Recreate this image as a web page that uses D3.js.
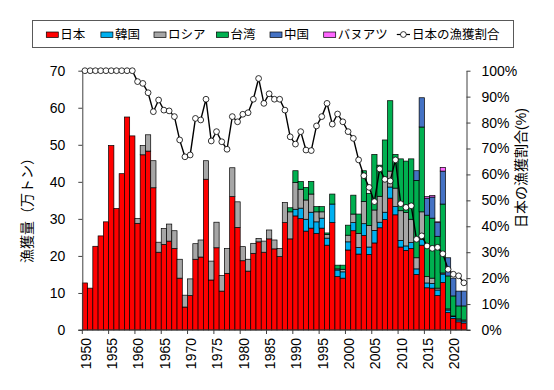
<!DOCTYPE html>
<html><head><meta charset="utf-8">
<script src="https://cdn.jsdelivr.net/npm/d3@7/dist/d3.min.js"></script>
<style>
body{margin:0;background:#fff}
text{font-family:"Liberation Sans",Arial,"Noto Sans CJK JP",sans-serif;fill:#000}
</style>
</head><body>
<svg id="c" width="554" height="390"></svg>
<script>
const years = [1950,1951,1952,1953,1954,1955,1956,1957,1958,1959,
1960,1961,1962,1963,1964,1965,1966,1967,1968,1969,
1970,1971,1972,1973,1974,1975,1976,1977,1978,1979,
1980,1981,1982,1983,1984,1985,1986,1987,1988,1989,
1990,1991,1992,1993,1994,1995,1996,1997,1998,1999,
2000,2001,2002,2003,2004,2005,2006,2007,2008,2009,
2010,2011,2012,2013,2014,2015,2016,2017,2018,2019,
2020,2021,2022];
const japan = [12.7,11.3,22.6,25.4,29.2,49.8,32.8,42.2,57.5,52.4,
28.8,47.3,48.3,38.4,21.0,23.1,24.0,22.0,14.0,6.2,
9.3,19.1,19.7,40.7,13.5,22.2,10.5,15.3,36.0,27.7,
18.7,15.9,20.7,23.8,21.0,24.6,21.9,19.8,29.0,24.6,
30.8,30.1,26.7,27.5,26.1,27.5,22.9,29.0,14.4,14.0,
21.6,26.8,20.5,25.5,20.4,23.5,27.6,29.8,35.6,31.1,
22.4,21.5,22.0,15.0,22.9,11.4,11.3,9.3,12.8,4.7,
3.1,2.2,1.9];
const korea = [0,0,0,0,0,0,0,0,0,0,
0,0,0,0,0,0,0,0,0,0,
0,0,0,0,0,0,0,0,0,0,
0,0,0,0,0,0,0,0,0,0,
1.8,2.8,3.2,4.3,3.1,2.7,1.9,5.0,1.8,1.7,
2.2,2.2,1.8,3.2,2.0,3.4,1.5,2.0,3.0,2.2,
1.8,1.2,1.6,1.5,1.5,1.3,1.3,1.5,2.3,0.7,
0.5,0.5,0.5];
const russia = [0,0,0,0,0,0,0,0,0,0,
1.3,2.5,4.4,7.3,2.7,4.3,4.6,4.8,5.1,3.2,
4.5,4.2,4.6,5.0,5.1,6.9,4.2,6.7,7.8,6.9,
3.8,3.2,2.7,0.9,3.0,2.4,2.4,2.2,5.4,7.3,
7.2,5.1,5.2,4.9,2.7,1.7,1.0,0,0.3,0.7,
1.8,2.3,3.8,6.0,5.8,5.5,7.0,8.5,4.3,5.0,
8.0,9.0,6.3,3.0,7.5,1.7,1.4,0.5,0.3,0.3,
0.2,0.3,0.3];
const taiwan = [0,0,0,0,0,0,0,0,0,0,
0,0,0,0,0,0,0,0,0,0,
0,0,0,0,0,0,0,0,0,0,
0,0,0,0,0,0,0,0,0,1.1,
3.2,2.1,3.4,3.4,1.4,1.4,0.4,2.7,1.0,1.1,
2.7,5.1,5.2,8.3,8.7,15.0,8.4,11.0,19.0,9.1,
14.0,13.9,16.3,20.9,22.9,16.6,16.2,14.0,18.6,8.9,
5.4,3.5,3.8];
const china = [0,0,0,0,0,0,0,0,0,0,
0,0,0,0,0,0,0,0,0,0,
0,0,0,0,0,0,0,0,0,0,
0,0,0,0,0,0,0,0,0,0,
0,0,0,0,0,0,0,0,0,0,
0,0,0,0,0,0,0,0,0,0,
0,0,0,2.6,7.9,4.6,5.7,3.7,8.9,4.9,
4.8,4.0,4.0];
const vanuatu = [0,0,0,0,0,0,0,0,0,0,
0,0,0,0,0,0,0,0,0,0,
0,0,0,0,0,0,0,0,0,0,
0,0,0,0,0,0,0,0,0,0,
0,0,0,0,0,0,0,0,0,0,
0,0,0,0,0,0,0,0,0,0,
0,0,0,0,0,0.4,0.4,0.2,1.0,0,
0,0,0];
const share = [100,100,100,100,100,100,100,100,100,100,
95.8,95.1,91.5,84.2,88.7,84.8,84.5,82.3,73.3,66.8,
67.5,81.6,81.0,89.0,72.9,76.5,72.6,69.7,82.3,80.3,
83.2,83.8,89.0,97.0,87.4,91.1,89.0,89.0,84.8,74.5,
71.7,76.5,69.4,69.2,78.7,82.3,87.4,79.4,83.3,80.3,
76.5,73.9,65.6,59.5,55.0,49.5,62.1,58.1,57.5,65.6,
48.7,47.3,47.9,35.0,36.3,32.4,31.5,31.9,29.4,23.4,
21.5,20.9,18.2];
const seriesNames = ["日本","韓国","ロシア","台湾","中国","バヌアツ"];
const seriesColors = ["#FF0000","#00B0F0","#A6A6A6","#00B050","#4472C4","#FF66FF"];
const leftTicks = [0,10,20,30,40,50,60,70];
const rightTicks = [0,10,20,30,40,50,60,70,80,90,100];
const yearTicks = [1950,1955,1960,1965,1970,1975,1980,1985,1990,1995,2000,2005,2010,2015,2020];
const lineName = "日本の漁獲割合";
const leftTitle = "漁獲量（万トン）";
const rightTitle = "日本の漁獲割合(%)";

const svg = d3.select("#c");
const x0 = 82.3, x1 = 466.5, yB = 330, yT = 70.7;
const x = d3.scaleBand().domain(years).range([x0, x1]).padding(0);
const y = d3.scaleLinear().domain([0, 70]).range([yB, yT]);
const y2 = d3.scaleLinear().domain([0, 100]).range([yB, yT]);
const bw = x.bandwidth();

const table = years.map((yr, i) => ({year: yr, "日本": japan[i], "韓国": korea[i], "ロシア": russia[i], "台湾": taiwan[i], "中国": china[i], "バヌアツ": vanuatu[i]}));
const stack = d3.stack().keys(seriesNames)(table);

const gBars = svg.append("g");
stack.forEach((s, si) => {
  gBars.selectAll(null).data(s.filter(d => d[1] - d[0] > 0)).join("rect")
    .attr("x", d => x(d.data.year))
    .attr("width", bw)
    .attr("y", d => y(d[1]))
    .attr("height", d => y(d[0]) - y(d[1]))
    .attr("fill", seriesColors[si])
    .attr("stroke", "#000")
    .attr("stroke-width", 0.7);
});

// left axis
const axL = svg.append("g").attr("transform", `translate(${x0},0)`)
  .call(d3.axisLeft(y).tickValues(leftTicks).tickSize(4).tickSizeOuter(0).tickPadding(13).tickFormat(d3.format("d")));
axL.select(".domain").attr("stroke", "#404040");
axL.selectAll(".tick line").attr("stroke", "#404040");
axL.selectAll("text").attr("font-size", 14).attr("font-family", '"Liberation Sans",Arial,sans-serif');

// right axis
const axR = svg.append("g").attr("transform", `translate(${x1},0)`)
  .call(d3.axisRight(y2).tickValues(rightTicks).tickSize(4).tickSizeOuter(0).tickPadding(11).tickFormat(d => d + "%"));
axR.select(".domain").attr("stroke", "#404040");
axR.selectAll(".tick line").attr("stroke", "#404040");
axR.selectAll("text").attr("font-size", 14).attr("font-family", '"Liberation Sans",Arial,sans-serif');

// bottom axis
svg.append("line").attr("x1", x0 - 4).attr("x2", x1 + 4).attr("y1", yB).attr("y2", yB).attr("stroke", "#404040");
const axB = svg.append("g").attr("transform", `translate(0,${yB})`);
yearTicks.forEach(t => {
  axB.append("line").attr("x1", x(t)).attr("x2", x(t)).attr("y1", 0).attr("y2", 4).attr("stroke", "#404040");
  axB.append("text").attr("transform", `translate(${x(t) + bw / 2 + 1},8) rotate(-90)`)
    .attr("text-anchor", "end").attr("dy", "0.35em").attr("font-size", 14).text(t);
});

// line
const line = d3.line().x((d, i) => x(years[i]) + bw / 2).y(d => y2(d));
svg.append("path").datum(share).attr("d", line).attr("fill", "none").attr("stroke", "#000").attr("stroke-width", 1.4);
svg.selectAll(null).data(share).join("circle")
  .attr("cx", (d, i) => x(years[i]) + bw / 2).attr("cy", d => y2(d)).attr("r", 2.9)
  .attr("fill", "#fff").attr("stroke", "#000").attr("stroke-width", 0.8);

// titles
svg.append("text").attr("transform", "translate(27,207) rotate(-90)").attr("text-anchor", "middle")
  .attr("dy", "0.35em").attr("font-size", 14).attr("font-family", '"Noto Sans CJK JP",sans-serif').text(leftTitle);
svg.append("text").attr("transform", "translate(521,168) rotate(-90)").attr("text-anchor", "middle")
  .attr("dy", "0.35em").attr("font-size", 14).attr("font-family", '"Noto Sans CJK JP",sans-serif').text(rightTitle);

// legend
const lg = svg.append("g");
lg.append("rect").attr("x", 32.5).attr("y", 20.5).attr("width", 481).attr("height", 27).attr("fill", "#fff").attr("stroke", "#595959").attr("stroke-width", 1);
const legX = [46.3, 100.9, 154, 216.4, 270, 323.7];
seriesNames.forEach((n, i) => {
  lg.append("rect").attr("x", legX[i]).attr("y", 32).attr("width", 12).attr("height", 5.5)
    .attr("fill", seriesColors[i]).attr("stroke", "#000").attr("stroke-width", 0.7);
  lg.append("text").attr("x", legX[i] + 14).attr("y", 34.5).attr("dy", "0.35em").attr("font-size", 12.5)
    .attr("font-family", '"Noto Sans CJK JP",sans-serif').text(n);
});
lg.append("line").attr("x1", 396.8).attr("x2", 410).attr("y1", 34.5).attr("y2", 34.5).attr("stroke", "#000").attr("stroke-width", 1.2);
lg.append("circle").attr("cx", 403.4).attr("cy", 34.5).attr("r", 2.9).attr("fill", "#fff").attr("stroke", "#000").attr("stroke-width", 0.8);
lg.append("text").attr("x", 412).attr("y", 34.5).attr("dy", "0.35em").attr("font-size", 12.5)
  .attr("font-family", '"Noto Sans CJK JP",sans-serif').text(lineName);
</script>
</body></html>
